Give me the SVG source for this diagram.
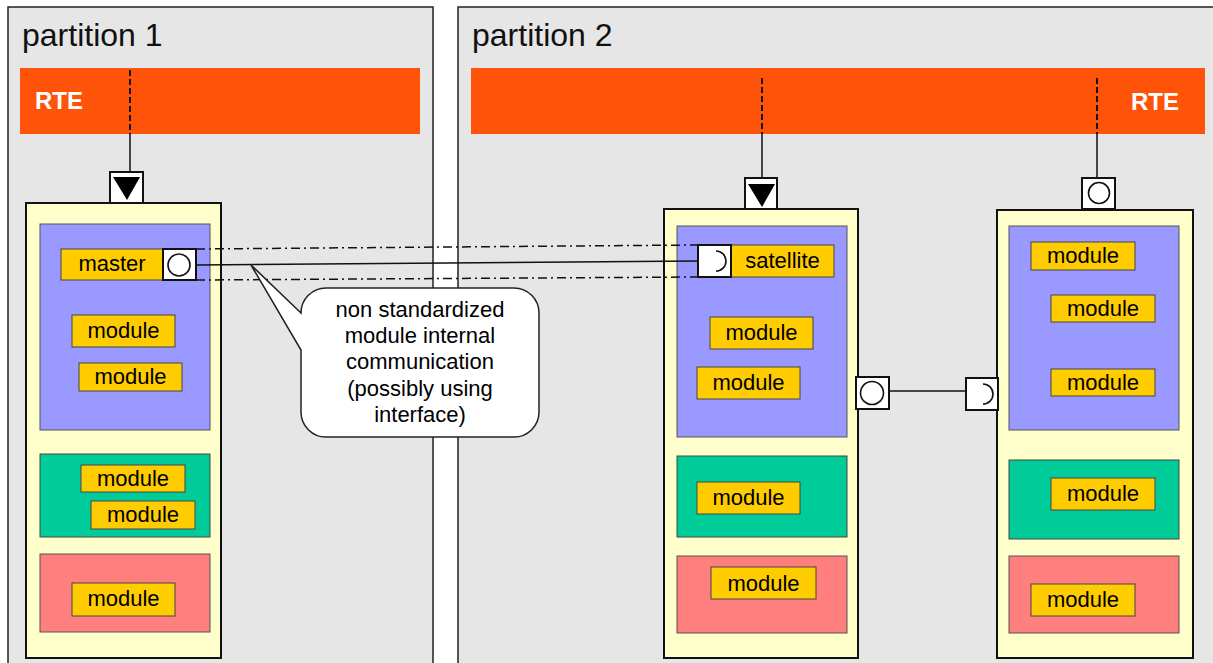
<svg xmlns="http://www.w3.org/2000/svg" width="1213" height="663" viewBox="0 0 1213 663">
  <style>
    .part { fill: #E6E6E6; stroke: #222; stroke-width: 1.5; }
    .rte { fill: #FF5309; }
    .cont { fill: #FFFFCC; stroke: #111; stroke-width: 2; }
    .pur { fill: #9999FF; stroke: #555; stroke-width: 1; }
    .grn { fill: #00CC99; stroke: #444; stroke-width: 1; }
    .red { fill: #FF7F7F; stroke: #555; stroke-width: 1; }
    .mod { fill: #FFCC00; stroke: #444; stroke-width: 1; }
    .port { fill: #FFFFFF; stroke: #111; stroke-width: 2; }
    .sym { fill: none; stroke: #111; stroke-width: 1.6; }
    .lbl { font-family: "Liberation Sans", Arial, sans-serif; font-size: 22px; fill: #000; text-anchor: middle; }
    .title { font-family: "Liberation Sans", Arial, sans-serif; font-size: 32px; fill: #111; }
    .rtet { font-family: "Liberation Sans", Arial, sans-serif; font-size: 24px; font-weight: bold; fill: #FFFFFF; }
    .wire { fill: none; stroke: #111; stroke-width: 1.5; }
    .dash { fill: none; stroke: #111; stroke-width: 2; stroke-dasharray: 6 3; }
    .dashdot { fill: none; stroke: #111; stroke-width: 1.5; stroke-dasharray: 9 4 2 4; }
    .note { fill: #FFFFFF; stroke: #222; stroke-width: 1.5; }
  </style>

  <!-- partitions with their RTE bars -->
  <g id="partition-1">
    <rect class="part" x="8" y="7" width="425" height="670"/>
    <text class="title" x="22" y="46">partition 1</text>
    <rect class="rte" x="20" y="68" width="400" height="66"/>
    <text class="rtet" x="35" y="109">RTE</text>
  </g>
  <g id="partition-2">
    <rect class="part" x="458" y="7" width="770" height="670"/>
    <text class="title" x="472" y="46">partition 2</text>
    <rect class="rte" x="471" y="68" width="734" height="66"/>
    <text class="rtet" x="1131" y="110">RTE</text>
  </g>

  <!-- connectors -->
  <g id="connectors">
    <line class="dash" x1="130" y1="70" x2="130" y2="134"/>
    <line class="wire" x1="130" y1="134" x2="130" y2="172"/>
    <line class="dash" x1="762" y1="78" x2="762" y2="134"/>
    <line class="wire" x1="762" y1="134" x2="762" y2="178"/>
    <line class="dash" x1="1097" y1="78" x2="1097" y2="134"/>
    <line class="wire" x1="1097" y1="134" x2="1097" y2="178"/>
    <line class="wire" x1="889" y1="391" x2="966" y2="391"/>
  </g>

  <!-- component in partition 1 -->
  <g id="component-1">
    <rect class="cont" x="26" y="203" width="195" height="455"/>
    <rect class="pur" x="40" y="224" width="170" height="206"/>
    <rect class="mod" x="61" y="249" width="102" height="31"/>
    <text class="lbl" x="112" y="271">master</text>
    <rect class="mod" x="72" y="315" width="103" height="32"/>
    <text class="lbl" x="123.5" y="338">module</text>
    <rect class="mod" x="79" y="363" width="103" height="28"/>
    <text class="lbl" x="130.5" y="384">module</text>
    <rect class="grn" x="40" y="454" width="170" height="83"/>
    <rect class="mod" x="81" y="465" width="104" height="27"/>
    <text class="lbl" x="133" y="486">module</text>
    <rect class="mod" x="91" y="501" width="104" height="28"/>
    <text class="lbl" x="143" y="522">module</text>
    <rect class="red" x="40" y="554" width="170" height="78"/>
    <rect class="mod" x="72" y="583" width="103" height="33"/>
    <text class="lbl" x="123.5" y="606">module</text>
  </g>
  <g id="port-1-rte">
    <rect class="port" x="110" y="172" width="33" height="31"/>
    <polygon points="113,177 140,177 127,200" fill="#000"/>
  </g>
  <g id="port-master">
    <rect class="port" x="163" y="249" width="33" height="31"/>
    <circle class="sym" cx="179" cy="265" r="11"/>
  </g>

  <!-- middle component in partition 2 -->
  <g id="component-2a">
    <rect class="cont" x="664" y="209" width="194" height="449"/>
    <rect class="pur" x="677" y="226" width="170" height="211"/>
    <rect class="mod" x="731" y="245" width="103" height="32"/>
    <text class="lbl" x="782.5" y="268">satellite</text>
    <rect class="mod" x="710" y="317" width="103" height="32"/>
    <text class="lbl" x="761.5" y="340">module</text>
    <rect class="mod" x="697" y="367" width="103" height="32"/>
    <text class="lbl" x="748.5" y="390">module</text>
    <rect class="grn" x="677" y="456" width="170" height="81"/>
    <rect class="mod" x="697" y="482" width="103" height="32"/>
    <text class="lbl" x="748.5" y="505">module</text>
    <rect class="red" x="677" y="556" width="170" height="77"/>
    <rect class="mod" x="711" y="567" width="105" height="32"/>
    <text class="lbl" x="763.5" y="591">module</text>
  </g>
  <g id="port-2a-rte">
    <rect class="port" x="745" y="178" width="32" height="31"/>
    <polygon points="748,184 775,184 762,207" fill="#000"/>
  </g>
  <g id="port-satellite">
    <rect class="port" x="698" y="245" width="33" height="32"/>
    <path class="sym" d="M716,251 A10,10 0 0 1 716,271"/>
  </g>
  <g id="port-2a-out">
    <rect class="port" x="856" y="377" width="33" height="32"/>
    <circle class="sym" cx="872" cy="393" r="11.5"/>
  </g>

  <!-- right component in partition 2 -->
  <g id="component-2b">
    <rect class="cont" x="997" y="210" width="196" height="448"/>
    <rect class="pur" x="1009" y="226" width="170" height="204"/>
    <rect class="mod" x="1031" y="242" width="104" height="28"/>
    <text class="lbl" x="1083" y="263">module</text>
    <rect class="mod" x="1051" y="295" width="104" height="27"/>
    <text class="lbl" x="1103" y="316">module</text>
    <rect class="mod" x="1051" y="369" width="104" height="27"/>
    <text class="lbl" x="1103" y="390">module</text>
    <rect class="grn" x="1009" y="460" width="170" height="79"/>
    <rect class="mod" x="1051" y="478" width="104" height="32"/>
    <text class="lbl" x="1103" y="501">module</text>
    <rect class="red" x="1009" y="556" width="170" height="77"/>
    <rect class="mod" x="1031" y="584" width="104" height="32"/>
    <text class="lbl" x="1083" y="607">module</text>
  </g>
  <g id="port-2b-rte">
    <rect class="port" x="1082" y="178" width="33" height="31"/>
    <circle class="sym" cx="1099" cy="193" r="10.5"/>
  </g>
  <g id="port-2b-in">
    <rect class="port" x="966" y="378" width="32" height="32"/>
    <path class="sym" d="M983,384 A10,10 0 0 1 983,404"/>
  </g>

  <!-- internal link between master and satellite -->
  <g id="internal-link">
    <line class="dashdot" x1="196" y1="249" x2="698" y2="245"/>
    <line class="wire" x1="196" y1="265" x2="698" y2="261"/>
    <line class="dashdot" x1="196" y1="280" x2="698" y2="277"/>
  </g>

  <!-- callout -->
  <g id="callout">
    <path class="note" d="M326,288 H514 A25,25 0 0 1 539,313 V412 A25,25 0 0 1 514,437 H326 A25,25 0 0 1 301,412 V350 L251,265 L301,313 A25,25 0 0 1 326,288 Z"/>
    <text class="lbl" x="420" y="317">non standardized</text>
    <text class="lbl" x="420" y="343">module internal</text>
    <text class="lbl" x="420" y="369">communication</text>
    <text class="lbl" x="420" y="396">(possibly using</text>
    <text class="lbl" x="420" y="422">interface)</text>
  </g>
</svg>
